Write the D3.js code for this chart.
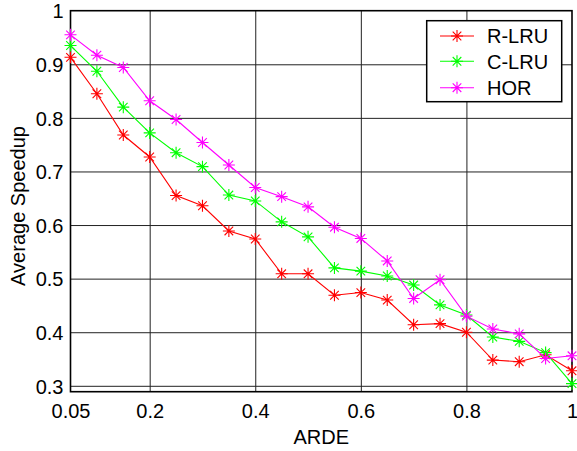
<!DOCTYPE html>
<html>
<head>
<meta charset="utf-8">
<script src="https://cdn.jsdelivr.net/npm/d3@7"></script>
<style>
  html, body { margin: 0; padding: 0; background: #fff; }
  svg { display: block; font-family: "Liberation Sans", Arial, Helvetica, sans-serif; }
</style>
</head>
<body>
<svg id="chart" width="577" height="451"></svg>
<script>
// ARDE values on the x axis
var ardeValues = [0.05, 0.1, 0.15, 0.2, 0.25, 0.3, 0.35, 0.4, 0.45, 0.5,
                  0.55, 0.6, 0.65, 0.7, 0.75, 0.8, 0.85, 0.9, 0.95, 1];

var seriesNames = ["R-LRU", "C-LRU", "HOR"];
var seriesColors = ["#ff0000", "#00ff00", "#ff00ff"];

var rlruSpeedup = [0.913, 0.845, 0.768, 0.727, 0.655, 0.636, 0.589, 0.574, 0.509, 0.509,
                   0.469, 0.474, 0.460, 0.414, 0.416, 0.400, 0.348, 0.345, 0.358, 0.328];
var clruSpeedup = [0.935, 0.887, 0.820, 0.772, 0.735, 0.709, 0.656, 0.645, 0.606, 0.578,
                   0.520, 0.514, 0.505, 0.488, 0.451, 0.432, 0.391, 0.383, 0.362, 0.304];
var horSpeedup  = [0.955, 0.917, 0.894, 0.832, 0.797, 0.754, 0.712, 0.670, 0.653, 0.634,
                   0.596, 0.575, 0.533, 0.463, 0.498, 0.430, 0.406, 0.397, 0.351, 0.356];

var xTicks = [0.05, 0.2, 0.4, 0.6, 0.8, 1];
var xTickLabels = ["0.05", "0.2", "0.4", "0.6", "0.8", "1"];
var yTicks = [0.3, 0.4, 0.5, 0.6, 0.7, 0.8, 0.9, 1];
var yTickLabels = ["0.3", "0.4", "0.5", "0.6", "0.7", "0.8", "0.9", "1"];

var xLabel = "ARDE";
var yLabel = "Average Speedup";

(function() {
  'use strict';

  var svg = d3.select("#chart");
  var fontSize = "20px";

  var plot = {left: 70.5, right: 572, top: 10.7, bottom: 391.7};

  var x = d3.scaleLinear().domain([0.05, 1]).range([plot.left, plot.right]);
  var y = d3.scaleLinear().domain([0.289, 1]).range([plot.bottom, plot.top]);

  var series = [rlruSpeedup, clruSpeedup, horSpeedup].map(function(vals, i) {
    return {
      name: seriesNames[i],
      color: seriesColors[i],
      points: vals.map(function(v, j) { return {x: ardeValues[j], y: v}; })
    };
  });

  // grid lines, drawn through the axis generators
  svg.append("g")
    .attr("class", "x-grid")
    .attr("transform", "translate(0," + plot.bottom + ")")
    .call(d3.axisBottom(x).tickValues(xTicks.slice(1, -1))
      .tickSize(-(plot.bottom - plot.top)).tickFormat(""))
    .call(function(g) {
      g.select(".domain").remove();
      g.selectAll("line").attr("stroke", "#222").attr("stroke-width", 1);
    });

  svg.append("g")
    .attr("class", "y-grid")
    .attr("transform", "translate(" + plot.left + ",0)")
    .call(d3.axisLeft(y).tickValues(yTicks.slice(0, -1))
      .tickSize(-(plot.right - plot.left)).tickFormat(""))
    .call(function(g) {
      g.select(".domain").remove();
      g.selectAll("line").attr("stroke", "#222").attr("stroke-width", 1);
    });

  // box round the plot
  svg.append("rect")
    .attr("x", plot.left)
    .attr("y", plot.top)
    .attr("width", plot.right - plot.left)
    .attr("height", plot.bottom - plot.top)
    .attr("fill", "none")
    .attr("stroke", "#000")
    .attr("stroke-width", 1.6);

  // tick labels
  var xAxis = svg.append("g")
    .attr("transform", "translate(0," + plot.bottom + ")")
    .call(d3.axisBottom(x).tickValues(xTicks).tickSize(0).tickPadding(0)
      .tickFormat(function(d, i) { return xTickLabels[i]; }));
  xAxis.select(".domain").remove();
  xAxis.selectAll("text")
    .attr("y", 26.8)
    .attr("dy", null)
    .attr("fill", "#000")
    .style("font-size", fontSize);

  var yAxis = svg.append("g")
    .attr("transform", "translate(" + plot.left + ",0)")
    .call(d3.axisLeft(y).tickValues(yTicks).tickSize(0).tickPadding(0)
      .tickFormat(function(d, i) { return yTickLabels[i]; }));
  yAxis.select(".domain").remove();
  yAxis.selectAll("text")
    .attr("x", -7)
    .attr("dy", "0.36em")
    .attr("fill", "#000")
    .style("font-size", fontSize);

  // axis titles
  svg.append("text")
    .attr("x", (plot.left + plot.right) / 2)
    .attr("y", 444)
    .attr("text-anchor", "middle")
    .style("font-size", fontSize)
    .text(xLabel);

  svg.append("text")
    .attr("transform", "translate(24.5,206) rotate(-90)")
    .attr("text-anchor", "middle")
    .style("font-size", fontSize)
    .text(yLabel);

  // asterisk marker: + and x laid over each other
  function asterisk(g, cx, cy, color) {
    var a = 6, b = 4.3;
    var d = "M" + (cx - a) + "," + cy + "H" + (cx + a) +
            "M" + cx + "," + (cy - a) + "V" + (cy + a) +
            "M" + (cx - b) + "," + (cy - b) + "L" + (cx + b) + "," + (cy + b) +
            "M" + (cx - b) + "," + (cy + b) + "L" + (cx + b) + "," + (cy - b);
    g.append("path")
      .attr("d", d)
      .attr("stroke", color)
      .attr("stroke-width", 1.1)
      .attr("fill", "none");
  }

  var line = d3.line()
    .x(function(d) { return x(d.x); })
    .y(function(d) { return y(d.y); });

  series.forEach(function(s) {
    var g = svg.append("g").attr("class", "series");
    g.append("path")
      .datum(s.points)
      .attr("d", line)
      .attr("fill", "none")
      .attr("stroke", s.color)
      .attr("stroke-width", 1.1);
    s.points.forEach(function(p) {
      asterisk(g, x(p.x), y(p.y), s.color);
    });
  });

  // legend
  var legend = svg.append("g").attr("class", "legend");
  legend.append("rect")
    .attr("x", 426.7)
    .attr("y", 20.7)
    .attr("width", 135)
    .attr("height", 81)
    .attr("fill", "#fff")
    .attr("stroke", "#000")
    .attr("stroke-width", 1.5);

  var rowY = [36, 61.3, 87.7];
  series.forEach(function(s, i) {
    legend.append("line")
      .attr("x1", 440).attr("x2", 474)
      .attr("y1", rowY[i]).attr("y2", rowY[i])
      .attr("stroke", s.color)
      .attr("stroke-width", 1.1);
    asterisk(legend, 457, rowY[i], s.color);
    legend.append("text")
      .attr("x", 487)
      .attr("y", rowY[i])
      .attr("dy", "0.36em")
      .style("font-size", fontSize)
      .text(s.name);
  });
}());
</script>
</body>
</html>
